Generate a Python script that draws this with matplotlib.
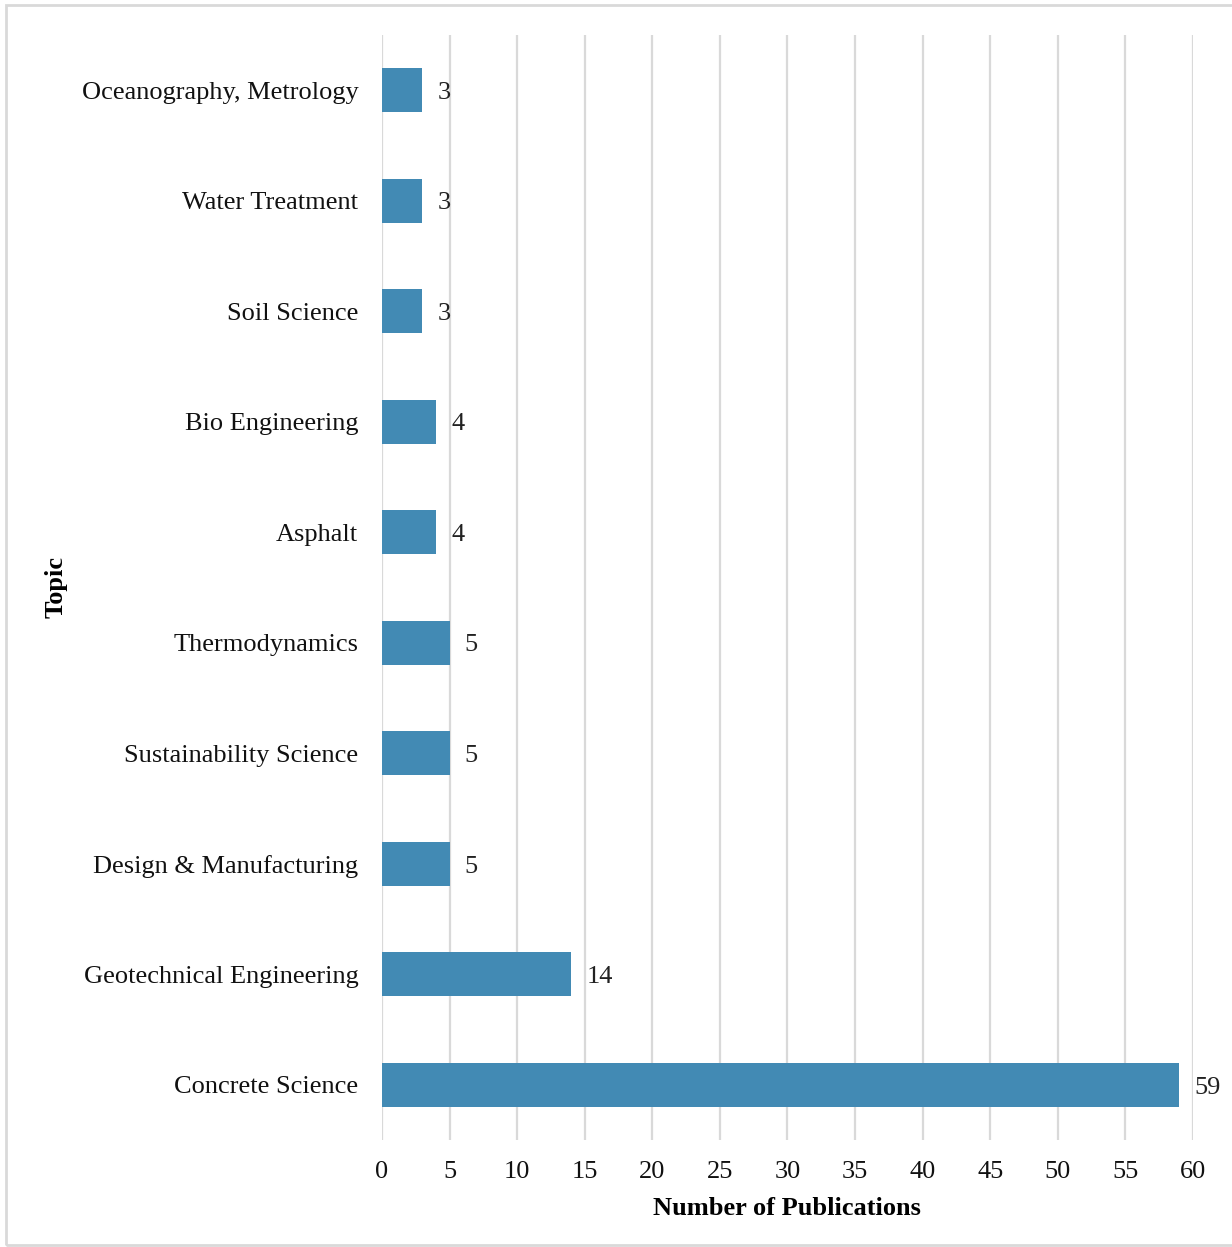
import matplotlib
matplotlib.use("Agg")
import matplotlib.pyplot as plt
from matplotlib.patches import Rectangle

topics = [
    "Concrete Science",
    "Geotechnical Engineering",
    "Design & Manufacturing",
    "Sustainability Science",
    "Thermodynamics",
    "Asphalt",
    "Bio Engineering",
    "Soil Science",
    "Water Treatment",
    "Oceanography, Metrology",
]
counts = [59, 14, 5, 5, 5, 4, 4, 3, 3, 3]
x_ticks = list(range(0, 61, 5))

plt.rcParams["font.family"] = ["Liberation Serif", "DejaVu Serif"]

bar_color = "#428ab4"
grid_color = "#d9d9d9"

fig = plt.figure(figsize=(12.32, 12.47), dpi=100)
ax = fig.add_axes([0.310, 0.0858, 0.6583, 0.8862])

ypos = list(range(len(topics)))
ax.barh(ypos, counts, height=0.4, color=bar_color, zorder=3)
for y, v in zip(ypos, counts):
    ax.annotate(str(v), (v, y), xytext=(11, -2), textcoords="offset points",
                va="center", ha="left", fontsize=19, color="#222222")

ax.set_xlim(0, 60)
ax.set_ylim(-0.5, len(topics) - 0.5)
ax.set_xticks(x_ticks)
ax.set_yticks(ypos)
ax.set_yticklabels(topics)
ax.tick_params(axis="both", length=0, labelsize=19, colors="#111111")
ax.tick_params(axis="y", pad=17)
ax.tick_params(axis="x", pad=15)
ax.grid(axis="x", color=grid_color, lw=1.6, zorder=0)
for s in ax.spines.values():
    s.set_visible(False)

ax.set_xlabel("Number of Publications", fontsize=19, fontweight="bold", labelpad=10)
ax.set_ylabel("Topic", fontsize=19, fontweight="bold")
ax.yaxis.set_label_coords(-0.387, 0.5)

fig.patches.append(Rectangle((0.005, 0.002), 1.2, 0.994, transform=fig.transFigure,
                             fill=False, edgecolor="#d9d9d9", lw=2))

fig.savefig("out.png", dpi=100)
